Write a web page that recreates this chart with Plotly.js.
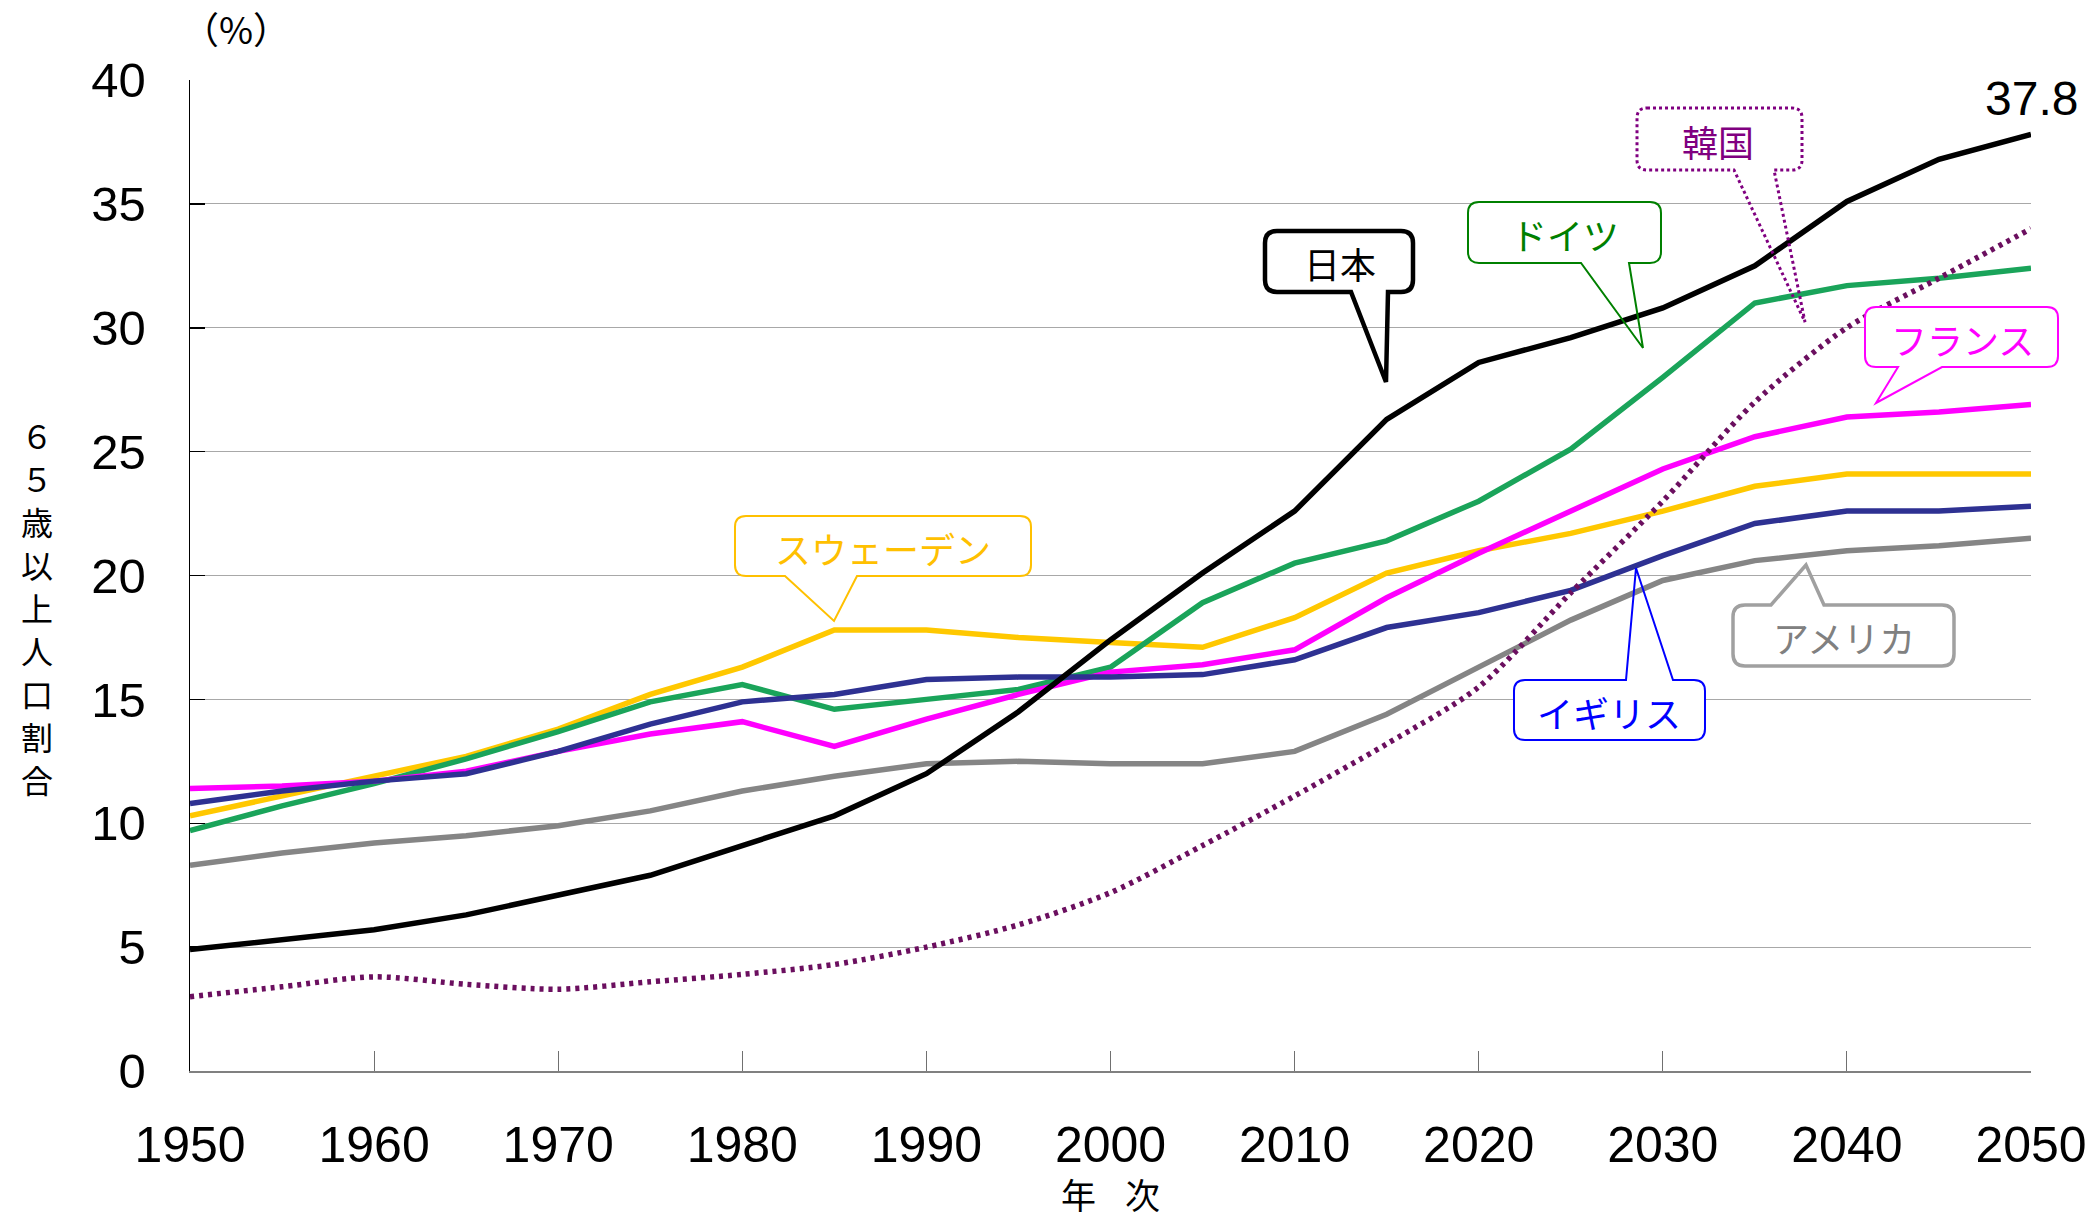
<!DOCTYPE html>
<html>
<head>
<meta charset="utf-8">
<script src="https://cdn.plot.ly/plotly-3.0.1.min.js"></script>
<style>html,body{margin:0;padding:0;background:#fff;}#chart{width:2096px;height:1219px;}</style>
</head>
<body>
<div id="chart"></div>
<script>
// ---- data ----
const years   = [1950,1955,1960,1965,1970,1975,1980,1985,1990,1995,2000,2005,2010,2015,2020,2025,2030,2035,2040,2045,2050];
const japan   = [4.9,5.3,5.7,6.3,7.1,7.9,9.1,10.3,12.0,14.5,17.4,20.1,22.6,26.3,28.6,29.6,30.8,32.5,35.1,36.8,37.8];
const korea   = [3.0,3.4,3.8,3.5,3.3,3.6,3.9,4.3,5.0,5.9,7.2,9.1,11.1,13.2,15.5,19.3,23.0,27.0,30.0,32.0,34.0];
const germany = [9.7,10.7,11.6,12.6,13.7,14.9,15.6,14.6,15.0,15.4,16.3,18.9,20.5,21.4,23.0,25.1,28.0,31.0,31.7,32.0,32.4];
const france  = [11.4,11.5,11.7,12.1,12.9,13.6,14.1,13.1,14.2,15.2,16.1,16.4,17.0,19.1,20.9,22.6,24.3,25.6,26.4,26.6,26.9];
const sweden  = [10.3,11.1,11.9,12.7,13.8,15.2,16.3,17.8,17.8,17.5,17.3,17.1,18.3,20.1,21.0,21.7,22.6,23.6,24.1,24.1,24.1];
const uk      = [10.8,11.3,11.7,12.0,12.9,14.0,14.9,15.2,15.8,15.9,15.9,16.0,16.6,17.9,18.5,19.4,20.8,22.1,22.6,22.6,22.8];
const usa     = [8.3,8.8,9.2,9.5,9.9,10.5,11.3,11.9,12.4,12.5,12.4,12.4,12.9,14.4,16.3,18.2,19.8,20.6,21.0,21.2,21.5];
const seriesNames = ['アメリカ','スウェーデン','ドイツ','フランス','イギリス','日本','韓国'];
const xTickLabels = ['1950','1960','1970','1980','1990','2000','2010','2020','2030','2040','2050'];
const yTickLabels = ['0','5','10','15','20','25','30','35','40'];
const yTitleChars = ['６','５','歳','以','上','人','口','割','合'];

// ---- geometry of the plot area (pixels) ----
const W = 2096, H = 1219;
const PL = 190, PR = 2031, PT = 80, PB = 1071;
function px2paperX(px){ return (px - PL) / (PR - PL); }
function px2paperY(py){ return (PB - py) / (PB - PT); }
function pt(p){ return px2paperX(p[0]).toFixed(5) + ',' + px2paperY(p[1]).toFixed(5); }

// callout outline: rounded box + tail (pixel positions converted to paper coords)
function calloutPath(b, r, tail){
  const [x0,y0,x1,y1] = b;
  const seg = [];
  seg.push('M' + pt([x0+r,y0]));
  if (tail && tail.side === 'top'){
    seg.push('L' + pt([tail.b0,y0]), 'L' + pt(tail.tip), 'L' + pt([tail.b1,y0]));
  }
  seg.push('L' + pt([x1-r,y0]), 'Q' + pt([x1,y0]) + ' ' + pt([x1,y0+r]));
  seg.push('L' + pt([x1,y1-r]), 'Q' + pt([x1,y1]) + ' ' + pt([x1-r,y1]));
  if (tail && tail.side === 'bottom'){
    seg.push('L' + pt([tail.b1,y1]), 'L' + pt(tail.tip), 'L' + pt([tail.b0,y1]));
  }
  seg.push('L' + pt([x0+r,y1]), 'Q' + pt([x0,y1]) + ' ' + pt([x0,y1-r]));
  seg.push('L' + pt([x0,y0+r]), 'Q' + pt([x0,y0]) + ' ' + pt([x0+r,y0]), 'Z');
  return seg.join(' ');
}

const callouts = [
  {text:'日本',        color:'#000000', tcol:'#000000', lw:4.5, dash:'solid', box:[1265,231,1413,292], r:12, tail:{side:'bottom',b0:1351,b1:1388,tip:[1386,382]}, tc:[1340,263]},
  {text:'ドイツ',      color:'#008000', tcol:'#008000', lw:2,   dash:'solid', box:[1468,202,1661,263], r:11, tail:{side:'bottom',b0:1581,b1:1629,tip:[1643,348]}, tc:[1565,234]},
  {text:'韓国',        color:'#800080', tcol:'#800080', lw:3,   dash:'dot',   box:[1637,108,1802,170], r:10, tail:{side:'bottom',b0:1734,b1:1774,tip:[1805,322]}, tc:[1718,141]},
  {text:'フランス',    color:'#FF00FF', tcol:'#FF00FF', lw:2,   dash:'solid', box:[1865,307,2058,367], r:11, tail:{side:'bottom',b0:1898,b1:1942,tip:[1876,403]}, tc:[1962,339]},
  {text:'スウェーデン',color:'#FFC000', tcol:'#FFC000', lw:2,   dash:'solid', box:[735,516,1031,576],  r:11, tail:{side:'bottom',b0:785,b1:857,tip:[834,621]},   tc:[883,548]},
  {text:'イギリス',    color:'#0000FF', tcol:'#0000FF', lw:2,   dash:'solid', box:[1514,680,1705,740], r:11, tail:{side:'top',b0:1626,b1:1673,tip:[1636,568]},    tc:[1609,712]},
  {text:'アメリカ',    color:'#A0A0A0', tcol:'#808080', lw:3.5, dash:'solid', box:[1733,605,1954,666], r:12, tail:{side:'top',b0:1771,b1:1824,tip:[1806,565]},    tc:[1844,637]}
];

const shapes = [];
const annotations = [];
callouts.forEach(c => {
  shapes.push({type:'path', xref:'paper', yref:'paper', layer:'above',
    path: calloutPath(c.box, c.r, null), fillcolor:'#ffffff', line:{width:0}});
  shapes.push({type:'path', xref:'paper', yref:'paper', layer:'above',
    path: calloutPath(c.box, c.r, c.tail), fillcolor:'rgba(0,0,0,0)',
    line:{color:c.color, width:c.lw, dash:c.dash}});
  annotations.push({xref:'paper', yref:'paper', x:px2paperX(c.tc[0]), y:px2paperY(c.tc[1]), text:c.text, showarrow:false,
    xanchor:'center', yanchor:'middle',
    font:{family:'"Noto Sans CJK JP", sans-serif', size:36, color:c.tcol}});
});

// end value label for Japan
annotations.push({xref:'x', yref:'y', x:years[years.length-1], y:japan[japan.length-1], yshift:36,
  text:japan[japan.length-1].toFixed(1), showarrow:false, xanchor:'center', yanchor:'middle',
  font:{family:'"Liberation Sans", Arial, sans-serif', size:48, color:'#000'}});
// unit label
annotations.push({xref:'paper', yref:'paper', x:px2paperX(236), y:px2paperY(28), text:'（%）', showarrow:false,
  xanchor:'center', yanchor:'middle', font:{family:'"Noto Sans CJK JP", sans-serif', size:37, color:'#000'}});
// vertical y-axis title (stacked characters, one per line)
yTitleChars.forEach((ch, i) => {
  annotations.push({xref:'paper', yref:'paper', x:px2paperX(37), y:px2paperY(435 + i*43),
    text:ch, showarrow:false, xanchor:'center', yanchor:'middle', height:40, borderpad:0,
    font:{family:'"Noto Sans CJK JP", sans-serif', size:32, color:'#000'}});
});

const colors = {'アメリカ':'#858585','スウェーデン':'#FFC800','ドイツ':'#1AA45A','フランス':'#FF00FF','イギリス':'#2E3192','日本':'#000000','韓国':'#6B0F5F'};
const values = {'アメリカ':usa,'スウェーデン':sweden,'ドイツ':germany,'フランス':france,'イギリス':uk,'日本':japan,'韓国':korea};

const traces = seriesNames.map(n => ({
  x: years, y: values[n], name: n, type:'scatter', mode:'lines',
  line: n === '韓国'
    ? {color:colors[n], width:5.5, dash:'4px,5px', shape:'spline', smoothing:0.8}
    : {color:colors[n], width:5.5, shape:'linear'},
  hoverinfo:'skip'
}));

const layout = {
  width: W, height: H,
  margin: {l:PL, r:W-PR, t:PT, b:H-PB, pad:0},
  paper_bgcolor:'#ffffff', plot_bgcolor:'#ffffff',
  showlegend:false,
  font:{family:'"Liberation Sans", Arial, sans-serif', color:'#000'},
  xaxis:{
    range:[1950,2050], fixedrange:true,
    tickmode:'array', tickvals:xTickLabels.map(Number), ticktext:xTickLabels,
    ticks:'inside', ticklen:20, tickcolor:'#707070', tickwidth:1,
    showline:true, linecolor:'#808080', linewidth:1.5,
    showgrid:false, zeroline:false,
    tickfont:{family:'"Liberation Sans", Arial, sans-serif', size:50, color:'#000'},
    ticklabelstandoff:29,
    title:{text:'\u2003年\u2004\u2002次', standoff:19, font:{family:'"Noto Sans CJK JP", sans-serif', size:35, color:'#000'}}
  },
  yaxis:{
    range:[0,40], fixedrange:true,
    tickmode:'array', tickvals:yTickLabels.map(Number), ticktext:yTickLabels,
    ticks:'inside', ticklen:15, tickcolor:'#000', tickwidth:1.5,
    showline:true, linecolor:'#000', linewidth:1.5,
    showgrid:true, gridcolor:'#A8A8A8', gridwidth:1.2, zeroline:false,
    tickfont:{family:'"Liberation Sans", Arial, sans-serif', size:49, color:'#000'},
    ticklabelstandoff:33
  },
  shapes: shapes,
  annotations: annotations
};

Plotly.newPlot('chart', traces, layout, {displayModeBar:false, staticPlot:true});
</script>
</body>
</html>
